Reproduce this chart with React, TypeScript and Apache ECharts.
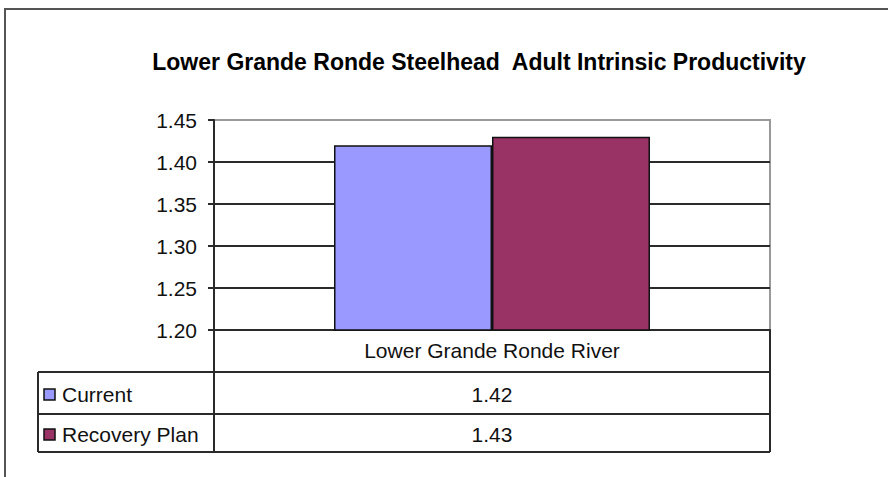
import React, { useEffect, useRef } from "react";
import * as echarts from "echarts";

// Chart data
const categories: string[] = ["Lower Grande Ronde River"];
const seriesNames: string[] = ["Current", "Recovery Plan"];
const currentValues: number[] = [1.42];
const recoveryPlanValues: number[] = [1.43];
const seriesColors: string[] = ["#9999FF", "#993366"];
const yTicks: number[] = [1.2, 1.25, 1.3, 1.35, 1.4, 1.45];

const titleText = "Lower Grande Ronde Steelhead  Adult Intrinsic Productivity";

const FONT = "'Liberation Sans', Arial, sans-serif";

// Layout of plot and the data table under it
const W = 888;
const H = 477;
const PLOT_L = 214;
const PLOT_R = 770;
const PLOT_T = 120;
const PLOT_B = 330;
const TABLE_L = 38;
const ROW1_T = 372;
const ROW2_T = 414;
const TABLE_B = 452;

export default function App() {
  const ref = useRef<HTMLDivElement>(null);

  useEffect(() => {
    document.body.style.margin = "0";
    if (!ref.current) return;
    const chart = echarts.init(ref.current, undefined, { renderer: "svg" });

    const allValues = [currentValues, recoveryPlanValues];
    const lineColor = "#2a2a2a";

    const graphics: any[] = [];
    // Outer chart frame (runs past the right and bottom edges)
    graphics.push({
      type: "rect",
      shape: { x: 5, y: 9, width: W + 20, height: H + 20 },
      style: { fill: "none", stroke: "#555", lineWidth: 2 },
      z: 0,
    });
    // Data table grid
    const hLine = (x1: number, x2: number, y: number) => ({
      type: "line",
      shape: { x1, y1: y, x2, y2: y },
      style: { stroke: lineColor, lineWidth: 2 },
      z: 10,
    });
    const vLine = (x: number, y1: number, y2: number) => ({
      type: "line",
      shape: { x1: x, y1, x2: x, y2 },
      style: { stroke: lineColor, lineWidth: 2 },
      z: 10,
    });
    graphics.push(hLine(TABLE_L, PLOT_R, ROW1_T));
    graphics.push(hLine(TABLE_L, PLOT_R, ROW2_T));
    graphics.push(hLine(TABLE_L, PLOT_R, TABLE_B));
    graphics.push(vLine(TABLE_L, ROW1_T, TABLE_B));
    graphics.push(vLine(PLOT_L, PLOT_B, TABLE_B));
    graphics.push(vLine(PLOT_R, PLOT_B, TABLE_B));

    const rowTops = [ROW1_T, ROW2_T];
    const rowBottoms = [ROW2_T, TABLE_B];
    seriesNames.forEach((name, i) => {
      const cy = (rowTops[i] + rowBottoms[i]) / 2 + 1;
      // Legend key
      graphics.push({
        type: "rect",
        shape: { x: 44, y: cy - 5, width: 11, height: 11 },
        style: { fill: seriesColors[i], stroke: "#111", lineWidth: 1.5 },
        z: 11,
      });
      graphics.push({
        type: "text",
        x: 62,
        y: cy,
        style: {
          text: name,
          font: `21px ${FONT}`,
          fill: "#111",
          verticalAlign: "middle",
          align: "left",
        },
        z: 11,
      });
      // Value cell
      graphics.push({
        type: "text",
        x: (PLOT_L + PLOT_R) / 2,
        y: cy,
        style: {
          text: allValues[i][0].toFixed(2),
          font: `21px ${FONT}`,
          fill: "#111",
          verticalAlign: "middle",
          align: "center",
        },
        z: 11,
      });
    });

    chart.setOption({
      animation: false,
      backgroundColor: "#ffffff",
      title: {
        text: titleText,
        left: 474,
        top: 45,
        textAlign: "center",
        textStyle: {
          fontFamily: FONT,
          fontWeight: "bold",
          fontSize: 23,
          color: "#000",
        },
      },
      grid: {
        left: PLOT_L,
        right: W - PLOT_R,
        top: PLOT_T,
        bottom: H - PLOT_B,
        show: true,
        borderColor: "#999",
        borderWidth: 2,
        backgroundColor: "transparent",
      },
      xAxis: {
        type: "category",
        data: categories,
        axisLine: { show: true, lineStyle: { color: lineColor, width: 2 } },
        axisTick: { show: false },
        axisLabel: {
          margin: 10,
          fontFamily: FONT,
          fontSize: 21,
          color: "#111",
        },
      },
      yAxis: {
        type: "value",
        min: yTicks[0],
        max: yTicks[yTicks.length - 1],
        interval: 0.05,
        axisLine: { show: true, lineStyle: { color: lineColor, width: 2 } },
        axisTick: { show: true, length: 6, lineStyle: { color: lineColor, width: 2 } },
        axisLabel: {
          margin: 17,
          fontFamily: FONT,
          fontSize: 21,
          color: "#111",
          formatter: (v: number) => v.toFixed(2),
        },
        splitLine: {
          show: true,
          showMaxLine: false,
          lineStyle: { color: lineColor, width: 2 },
        },
      },
      series: [
        {
          name: seriesNames[0],
          type: "bar",
          data: currentValues,
          barWidth: 158,
          barGap: "0%",
          itemStyle: { color: seriesColors[0], borderColor: "#111", borderWidth: 1.5 },
        },
        {
          name: seriesNames[1],
          type: "bar",
          data: recoveryPlanValues,
          barWidth: 158,
          barGap: "0%",
          itemStyle: { color: seriesColors[1], borderColor: "#111", borderWidth: 1.5 },
        },
      ],
      graphic: graphics,
    });

    return () => chart.dispose();
  }, []);

  return <div ref={ref} style={{ width: W, height: H }} />;
}
